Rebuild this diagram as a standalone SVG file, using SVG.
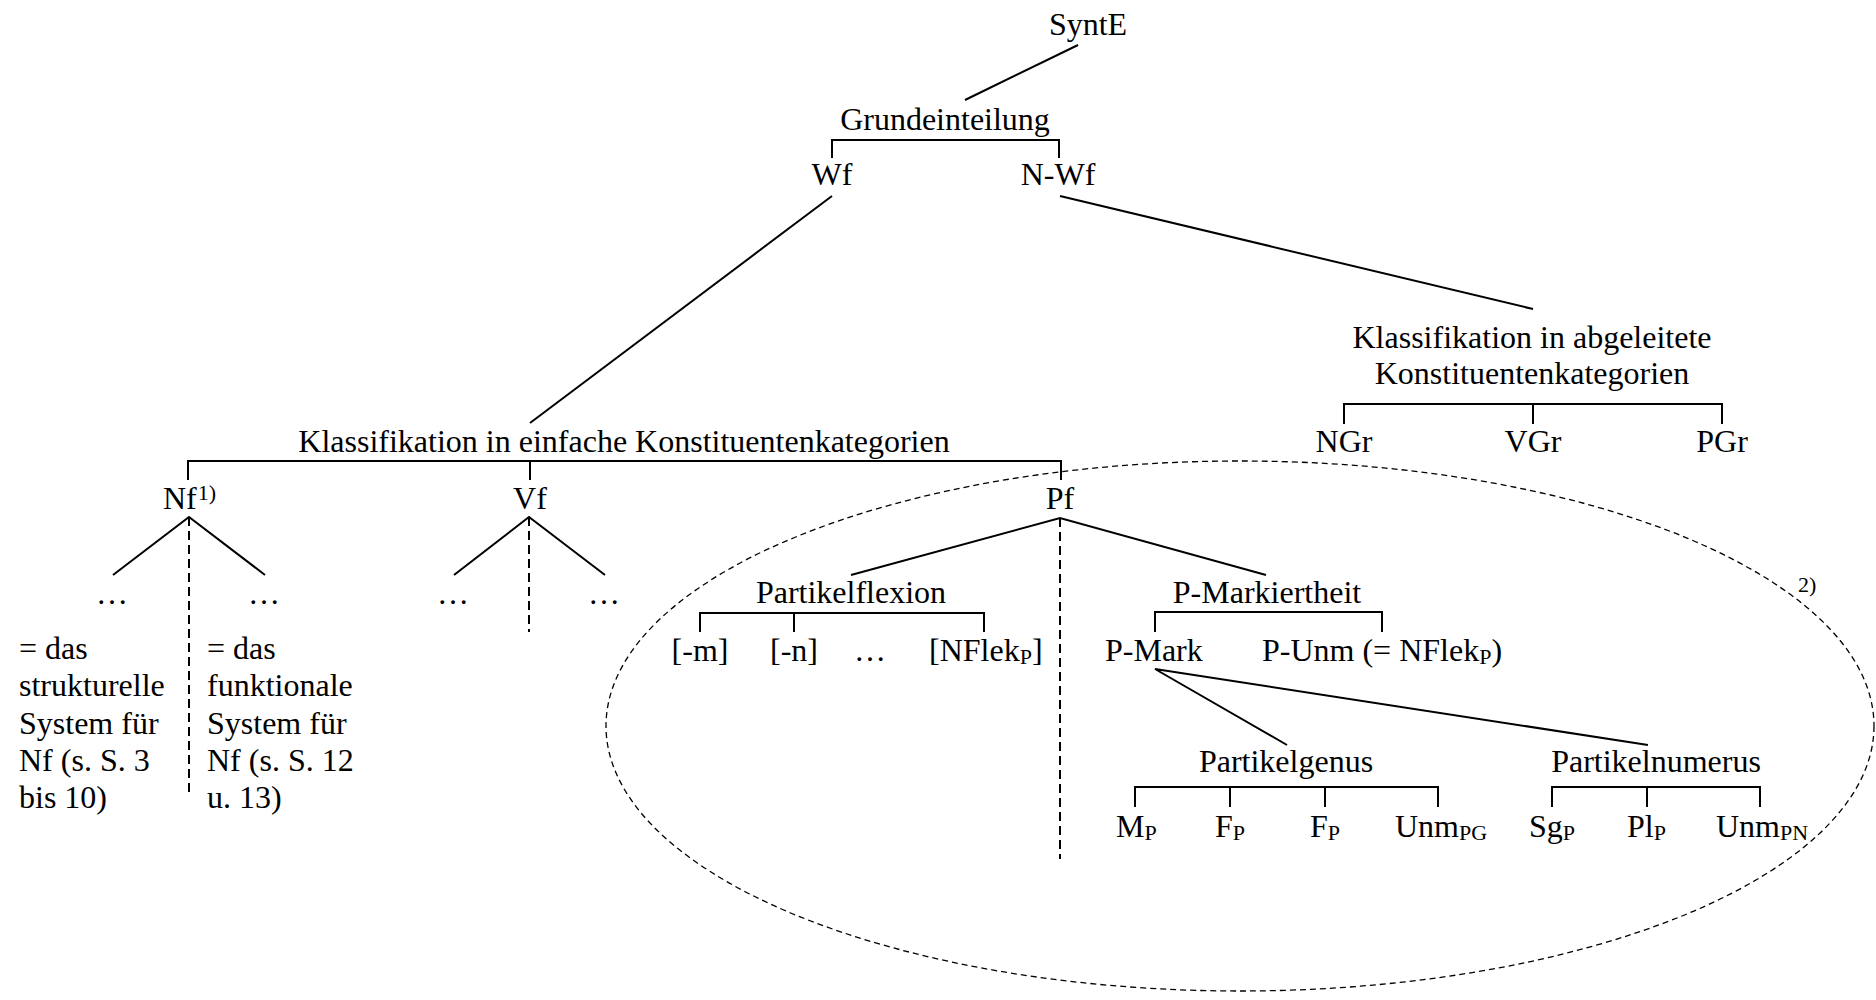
<svg xmlns="http://www.w3.org/2000/svg" width="1876" height="1000" viewBox="0 0 1876 1000">
<style>
text { font-family: "Liberation Serif", "Times New Roman", serif; font-size: 32px; fill: #000; }
.m { text-anchor: middle; }
.sub { font-size: 22px; }
.sup { font-size: 22px; }
.ln { fill: none; stroke: #000; stroke-width: 2; }
.dash { fill: none; stroke: #000; stroke-width: 2; stroke-dasharray: 9 5; }
.oval { fill: none; stroke: #000; stroke-width: 1.3; stroke-dasharray: 6 4; }
</style>
<rect width="1876" height="1000" fill="#fff"/>
<g id="connectors">
  <path class="ln" d="M1078,45 L965,100"/>
  <path class="ln" d="M832,158 V140 H1059 V158"/>
  <path class="ln" d="M832,196 L530,423"/>
  <path class="ln" d="M1060,196 L1533,309"/>
  <path class="ln" d="M188,480 V461 H1061 V480 M530,461 V480"/>
  <path class="ln" d="M1344,424 V404 H1722 V424 M1533,404 V424"/>
  <path class="ln" d="M113,575 L189,517 L265,575"/>
  <path class="dash" d="M189,517 V797"/>
  <path class="ln" d="M454,575 L529,517 L605,575"/>
  <path class="dash" d="M529,517 V632"/>
  <path class="ln" d="M851,575 L1060,518 L1266,575"/>
  <path class="dash" d="M1060,518 V859"/>
  <path class="ln" d="M700,632 V613 H984 V632 M794,613 V632"/>
  <path class="ln" d="M1155,632 V612 H1382 V632"/>
  <path class="ln" d="M1287,745 L1155,669 L1648,745"/>
  <path class="ln" d="M1135,807 V787 H1438 V807 M1230,787 V807 M1325,787 V807"/>
  <path class="ln" d="M1552,807 V787 H1760 V807 M1647,787 V807"/>
  <ellipse class="oval" cx="1240" cy="726" rx="634" ry="265"/>
</g>
<g id="n-synte"><text class="m" x="1088" y="35">SyntE</text></g>
<g id="n-grund"><text class="m" x="945" y="130">Grundeinteilung</text></g>
<g id="n-wf"><text class="m" x="832" y="185">Wf</text></g>
<g id="n-nwf"><text class="m" x="1058" y="185">N-Wf</text></g>
<g id="n-klass-einfach"><text class="m" x="624" y="452">Klassifikation in einfache Konstituentenkategorien</text></g>
<g id="n-klass-abgel"><text class="m" x="1532" y="348">Klassifikation in abgeleitete</text><text class="m" x="1532" y="384">Konstituentenkategorien</text></g>
<g id="n-ngr"><text class="m" x="1344" y="452">NGr</text></g>
<g id="n-vgr"><text class="m" x="1533" y="452">VGr</text></g>
<g id="n-pgr"><text class="m" x="1722" y="452">PGr</text></g>
<g id="n-nf"><text x="163" y="509">Nf<tspan class="sup" dx="1" dy="-9">1)</tspan></text></g>
<g id="n-vf"><text class="m" x="530" y="509">Vf</text></g>
<g id="n-pf"><text class="m" x="1060" y="509">Pf</text></g>
<g id="n-nf-dots"><text class="m" x="112" y="604">…</text><text class="m" x="264" y="604">…</text></g>
<g id="n-vf-dots"><text class="m" x="453" y="604">…</text><text class="m" x="604" y="604">…</text></g>
<g id="n-struct">
  <text x="19" y="659">= das</text>
  <text x="19" y="696">strukturelle</text>
  <text x="19" y="734">System für</text>
  <text x="19" y="771">Nf (s. S. 3</text>
  <text x="19" y="808">bis 10)</text>
</g>
<g id="n-funct">
  <text x="207" y="659">= das</text>
  <text x="207" y="696">funktionale</text>
  <text x="207" y="734">System für</text>
  <text x="207" y="771">Nf (s. S. 12</text>
  <text x="207" y="808">u. 13)</text>
</g>
<g id="n-partflex"><text class="m" x="851" y="603">Partikelflexion</text></g>
<g id="n-m"><text class="m" x="700" y="661">[-m]</text></g>
<g id="n-n"><text class="m" x="794" y="661">[-n]</text></g>
<g id="n-flexdots"><text class="m" x="870" y="661">…</text></g>
<g id="n-nflek"><text x="929" y="661">[NFlek<tspan class="sub" dy="3">P</tspan><tspan dy="-3">]</tspan></text></g>
<g id="n-pmarkiert"><text class="m" x="1267" y="603">P-Markiertheit</text></g>
<g id="n-pmark"><text x="1105" y="661">P-Mark</text></g>
<g id="n-punm"><text x="1262" y="661">P-Unm (= NFlek<tspan class="sub" dy="3">P</tspan><tspan dy="-3">)</tspan></text></g>
<g id="n-pgenus"><text class="m" x="1286" y="772">Partikelgenus</text></g>
<g id="n-pnumerus"><text class="m" x="1656" y="772">Partikelnumerus</text></g>
<g id="n-mp"><text x="1116" y="837">M<tspan class="sub" dy="3">P</tspan></text></g>
<g id="n-fp1"><text x="1215" y="837">F<tspan class="sub" dy="3">P</tspan></text></g>
<g id="n-fp2"><text x="1310" y="837">F<tspan class="sub" dy="3">P</tspan></text></g>
<g id="n-unmpg"><text x="1395" y="837">Unm<tspan class="sub" dy="3">PG</tspan></text></g>
<g id="n-sgp"><text x="1529" y="837">Sg<tspan class="sub" dy="3">P</tspan></text></g>
<g id="n-plp"><text x="1627" y="837">Pl<tspan class="sub" dy="3">P</tspan></text></g>
<g id="n-unmpn"><text x="1716" y="837">Unm<tspan class="sub" dy="3">PN</tspan></text></g>
<g id="n-note2"><text x="1798" y="592" style="font-size:22px">2)</text></g>
</svg>
